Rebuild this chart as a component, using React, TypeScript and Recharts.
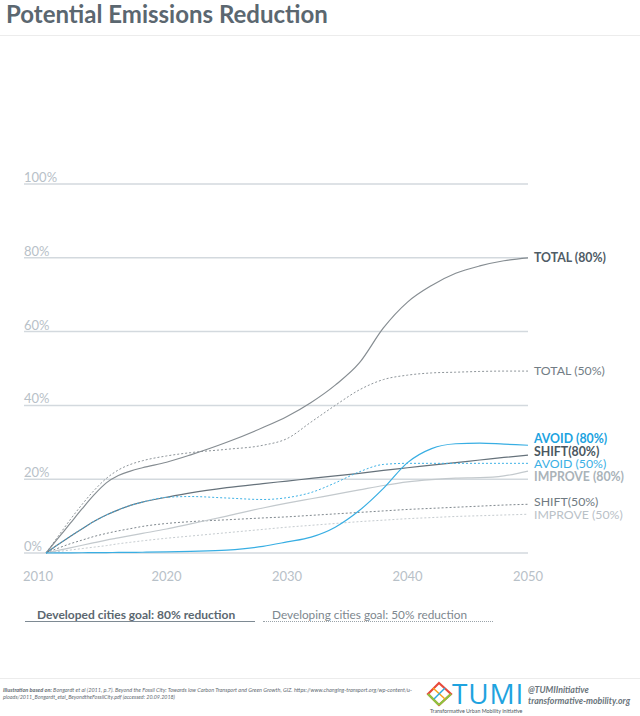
import React from "react";
import { LineChart, Line, XAxis, YAxis, CartesianGrid } from "recharts";

const years = [2010, 2011, 2012, 2013, 2014, 2015, 2016, 2017, 2018, 2020, 2022, 2025, 2028, 2030, 2032, 2034, 2036, 2038, 2040, 2042, 2044, 2046, 2048, 2050];
const total80 = [0, 4, 8, 12, 15.8, 19, 21, 22.2, 23.1, 24.6, 26.6, 30, 34, 37, 40.8, 45.5, 51.5, 61, 68, 72.5, 75.8, 77.8, 79.2, 80];
const total50 = [0, 4.5, 9, 13.2, 17, 20.2, 22.5, 24, 25, 26.3, 27.2, 28.1, 29.2, 31, 35.5, 40, 44.2, 47, 48.2, 48.8, 49, 49.2, 49.3, 49.3];
const shift80 = [0, 2.3, 4.5, 6.6, 8.6, 10.3, 11.7, 12.9, 13.8, 15.1, 16.3, 17.7, 18.8, 19.5, 20.2, 20.9, 21.6, 22.4, 23.1, 23.8, 24.5, 25.2, 25.9, 26.5];
const avoid50 = [0, 2.3, 4.5, 6.6, 8.6, 10.3, 11.7, 12.9, 13.8, 15.1, 15.3, 14.9, 14.5, 15, 16.4, 19, 22, 24, 24.3, 24.3, 24.3, 24.3, 24.3, 24.3];
const avoid80 = [0, 0.02, 0.05, 0.07, 0.1, 0.12, 0.15, 0.18, 0.2, 0.3, 0.45, 0.8, 1.8, 3, 4.3, 7, 11.5, 17.5, 24.5, 28.3, 29.6, 29.8, 29.5, 29.2];
const improve80 = [0, 0.7, 1.4, 2.1, 2.8, 3.5, 4.1, 4.7, 5.3, 6.5, 7.9, 10, 12.2, 13.5, 14.7, 15.9, 17.1, 18.3, 19.3, 19.9, 20.3, 20.4, 20.9, 22.2];
const shift50 = [0, 1.3, 2.5, 3.5, 4.5, 5.3, 6, 6.6, 7.2, 8, 8.5, 9, 9.5, 9.8, 10.2, 10.6, 11, 11.4, 11.8, 12.1, 12.4, 12.7, 13, 13.2];
const improve50 = [0, 0.4, 0.8, 1.2, 1.6, 2, 2.5, 2.9, 3.3, 4, 4.6, 5.5, 6.4, 7, 7.5, 8, 8.5, 8.9, 9.3, 9.6, 9.9, 10.1, 10.3, 10.5];

const xTicks = [2010, 2020, 2030, 2040, 2050];
const yTicks = [0, 20, 40, 60, 80, 100];

const data = years.map((year, i) => ({
  year,
  total80: total80[i],
  total50: total50[i],
  shift80: shift80[i],
  avoid50: avoid50[i],
  avoid80: avoid80[i],
  improve80: improve80[i],
  shift50: shift50[i],
  improve50: improve50[i],
}));

const FONT = "Lato, 'Open Sans', sans-serif";

type S = {
  key: string;
  label: string;
  stroke: string;
  dash?: string;
  width: number;
  labelColor: string;
  labelWeight: number;
  labelDy: number;
};

const series: S[] = [
  { key: "improve50", label: "IMPROVE (50%)", stroke: "#c6ccd0", dash: "2 2", width: 1, labelColor: "#b9c1c7", labelWeight: 400, labelDy: 1 },
  { key: "shift50", label: "SHIFT(50%)", stroke: "#7f888e", dash: "2 2", width: 1, labelColor: "#6f7a82", labelWeight: 400, labelDy: -2 },
  { key: "improve80", label: "IMPROVE (80%)", stroke: "#c3c9cd", width: 1.2, labelColor: "#aab3b9", labelWeight: 700, labelDy: 6 },
  { key: "total50", label: "TOTAL (50%)", stroke: "#8e959a", dash: "2 2", width: 1, labelColor: "#727d85", labelWeight: 400, labelDy: 0 },
  { key: "total80", label: "TOTAL (80%)", stroke: "#868d92", width: 1.2, labelColor: "#4f5c66", labelWeight: 700, labelDy: 0 },
  { key: "shift80", label: "SHIFT(80%)", stroke: "#66727b", width: 1.2, labelColor: "#4a5761", labelWeight: 700, labelDy: -3 },
  { key: "avoid50", label: "AVOID (50%)", stroke: "#3fb2e6", dash: "2 2", width: 1, labelColor: "#3bb0e5", labelWeight: 400, labelDy: 0.5 },
  { key: "avoid80", label: "AVOID (80%)", stroke: "#38aee3", width: 1.2, labelColor: "#1ca3df", labelWeight: 700, labelDy: -6 },
];

const XTick = (props: any) => {
  const { x, y, payload, index } = props;
  const first = index === 0;
  return (
    <text
      x={first ? 23 : x}
      y={y + 20}
      textAnchor={first ? "start" : "middle"}
      fill="#b8c1c8"
      fontSize={13}
      fontFamily={FONT}
    >
      {payload.value}
    </text>
  );
};

const YTick = (props: any) => {
  const { y, payload } = props;
  return (
    <text x={24} y={y - 2} textAnchor="start" fill="#b8c1c8" fontSize={13} fontFamily={FONT}>
      {payload.value}%
    </text>
  );
};

const makeLabel = (s: S) => (props: any) => {
  const { x, y, index } = props;
  if (index !== years.length - 1) return null;
  return (
    <text
      key={s.key + "-lbl"}
      x={x + 6}
      y={y + s.labelDy + 4.2}
      fill={s.labelColor}
      fontWeight={s.labelWeight}
      fontSize={12.3}
      fontFamily={FONT}
    >
      {s.label}
    </text>
  );
};

export default function App() {
  return (
    <div style={{ position: "relative", width: 640, height: 716, background: "#fff", fontFamily: FONT, overflow: "hidden" }}>
      <style>{"body{margin:0}"}</style>
      <div
        style={{
          position: "absolute",
          left: 6,
          top: 0,
          fontSize: 24,
          fontWeight: 700,
          color: "#5b6770",
          lineHeight: "28px",
          whiteSpace: "nowrap",
        }}
      >
        Potential Emissions Reduction
      </div>
      <div style={{ position: "absolute", left: 0, top: 35, width: 640, height: 1, background: "#ececec" }} />
      <div style={{ position: "absolute", left: 0, top: 0 }}>
        <LineChart width={640} height={600} data={data} margin={{ top: 184, right: 112, left: 0, bottom: 17 }}>
          <CartesianGrid vertical={false} stroke="#d3d9de" strokeWidth={1.5} />
          <XAxis
            dataKey="year"
            type="number"
            domain={[2008.17, 2050]}
            ticks={xTicks}
            axisLine={false}
            tickLine={false}
            height={30}
            tick={<XTick />}
            interval={0}
          />
          <YAxis
            type="number"
            domain={[0, 100]}
            ticks={yTicks}
            axisLine={false}
            tickLine={false}
            width={24}
            tick={<YTick />}
            interval={0}
          />
          {series.map((s) => (
            <Line
              key={s.key}
              dataKey={s.key}
              type="monotone"
              stroke={s.stroke}
              strokeWidth={s.width}
              strokeDasharray={s.dash}
              dot={false}
              activeDot={false}
              isAnimationActive={false}
              label={makeLabel(s)}
            />
          ))}
        </LineChart>
      </div>
      {/* legend */}
      <div style={{ position: "absolute", left: 37, top: 607, fontSize: 12, fontWeight: 700, color: "#5b6770", whiteSpace: "nowrap" }}>
        Developed cities goal: 80% reduction
      </div>
      <div style={{ position: "absolute", left: 25, top: 621, width: 230, height: 0, borderTop: "1.5px solid #7e8a93" }} />
      <div style={{ position: "absolute", left: 272, top: 607, fontSize: 11.8, fontWeight: 400, color: "#7d878e", whiteSpace: "nowrap" }}>
        Developing cities goal: 50% reduction
      </div>
      <div style={{ position: "absolute", left: 263, top: 621, width: 230, height: 0, borderTop: "1px dotted #9aa3a9" }} />
      {/* footer */}
      <div style={{ position: "absolute", left: 0, top: 678, width: 640, height: 1, background: "#ececec" }} />
      <svg style={{ position: "absolute", left: 0, top: 680 }} width={424} height={24}>
        <text x={3} y={11.5} fontSize={5.8} fontStyle="italic" fill="#5f6a72" fontFamily={FONT} textLength={409} lengthAdjust="spacingAndGlyphs">
          <tspan fontWeight={700}>Illustration based on:</tspan> Bongardt et al (2011, p.7). Beyond the Fossil City: Towards low Carbon Transport and Green Growth, GIZ. https://www.changing-transport.org/wp-content/u-
        </text>
        <text x={3} y={18.5} fontSize={5.8} fontStyle="italic" fill="#5f6a72" fontFamily={FONT} textLength={172} lengthAdjust="spacingAndGlyphs">
          ploads/2011_Bongardt_etal_BeyondtheFossilCity.pdf (accessed: 20.09.2018)
        </text>
      </svg>
      <svg style={{ position: "absolute", left: 426, top: 681 }} width={30} height={28}>
        <polygon points="13,2 25,13 13,24 2,13" fill="none" stroke="#e84a3c" strokeWidth={2.2} />
        <line x1={2} y1={13} x2={13} y2={24} stroke="#8cc63f" strokeWidth={2.2} />
        <line x1={13} y1={24} x2={25} y2={13} stroke="#8cc63f" strokeWidth={2.2} />
        <line x1={7} y1={7} x2={19} y2={18} stroke="#f7a21b" strokeWidth={1.5} />
        <line x1={8} y1={18} x2={19} y2={7} stroke="#29aae1" strokeWidth={1.5} />
      </svg>
      <div style={{ position: "absolute", left: 452, top: 679, fontSize: 28, fontWeight: 400, color: "#1fa3df", fontFamily: "'Open Sans', sans-serif", lineHeight: "28px", letterSpacing: 0.8 }}>
        TUMI
      </div>
      <div style={{ position: "absolute", left: 430, top: 708, fontSize: 5.3, color: "#4d5860", whiteSpace: "nowrap" }}>
        Transformative Urban Mobility Initiative
      </div>
      <div style={{ position: "absolute", left: 528, top: 684, fontSize: 8.8, fontWeight: 700, fontStyle: "italic", color: "#6a747b", lineHeight: "11px", whiteSpace: "nowrap" }}>
        @TUMIInitiative
        <br />
        transformative-mobility.org
      </div>
    </div>
  );
}
